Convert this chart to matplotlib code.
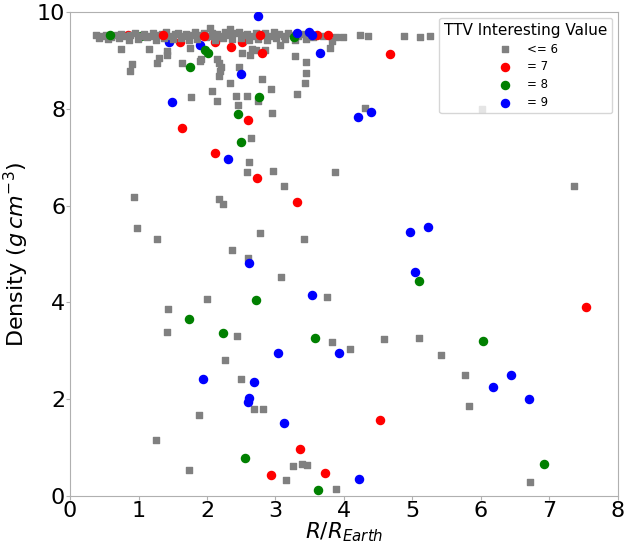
import matplotlib
matplotlib.use("Agg")
import matplotlib.pyplot as plt

# TTV interesting value <= 6 (grey squares)
# dense band near the density cap
band_r = [0.38, 0.45, 0.52, 0.60, 0.68, 0.74, 0.82, 0.88, 0.95, 1.02, 1.08, 1.15,
          1.21, 1.28, 1.34, 1.40, 1.47, 1.53, 1.58, 1.64, 1.70, 1.77, 1.83, 1.88,
          1.96, 2.02, 2.08, 2.15, 2.21, 2.27, 2.33, 2.40, 2.46, 2.52, 2.59, 2.65,
          2.71, 2.78, 2.85, 2.92, 2.98, 3.05, 3.12, 3.18, 3.25, 3.33, 3.40, 3.47, 3.55,
          0.42, 0.56, 0.71, 0.86, 0.99, 1.12, 1.25, 1.37, 1.50, 1.62, 1.74, 1.86,
          1.99, 2.11, 2.24, 2.36, 2.49, 2.62, 2.75, 2.88, 3.01, 3.14, 3.29, 3.44]
band_rho = [9.52, 9.50, 9.53, 9.49, 9.52, 9.55, 9.50, 9.53, 9.56, 9.51, 9.54, 9.50,
            9.57, 9.52, 9.55, 9.58, 9.51, 9.54, 9.57, 9.50, 9.55, 9.52, 9.58, 9.53,
            9.56, 9.51, 9.57, 9.54, 9.50, 9.58, 9.53, 9.56, 9.60, 9.52, 9.55, 9.51,
            9.57, 9.53, 9.56, 9.50, 9.58, 9.54, 9.51, 9.56, 9.53, 9.50, 9.55, 9.52, 9.49,
            9.46, 9.44, 9.47, 9.43, 9.45, 9.48, 9.42, 9.46, 9.44, 9.47, 9.43, 9.45,
            9.48, 9.42, 9.46, 9.44, 9.47, 9.43, 9.45, 9.42, 9.46, 9.44, 9.43, 9.45]

grey_r = [0.93, 0.98, 1.27, 1.435, 1.42, 2.00, 2.44, 2.27, 2.49, 2.69, 2.82, 1.88,
          1.25, 1.73, 3.26, 3.39, 3.46, 3.16, 3.89, 3.08, 3.75, 3.82, 4.09, 4.59,
          5.10, 5.41, 5.76, 5.83, 6.72, 4.31, 6.01, 3.87, 7.36, 1.77, 2.08, 2.15,
          2.33, 2.42, 2.45, 2.58, 2.75, 2.81, 2.93, 3.31, 3.43, 2.95, 2.64, 2.62,
          2.58, 2.97, 3.12, 2.18, 2.24, 2.78, 3.41, 2.36, 2.60, 0.90, 0.87, 1.27,
          1.63, 1.90, 2.17, 2.21, 2.19, 2.17, 2.47, 3.45, 0.74, 1.16, 1.42, 1.42,
          1.30, 1.75, 1.91, 2.15, 2.51, 2.65, 2.63, 2.84, 2.72, 3.07, 3.28, 3.80,
          3.45, 2.05, 2.34, 3.69, 3.82, 3.88, 3.98, 4.24, 4.35, 4.88, 5.11, 5.25]
grey_rho = [6.18, 5.54, 5.32, 3.86, 3.38, 4.07, 3.31, 2.81, 2.42, 1.80, 1.80, 1.68,
            1.16, 0.53, 0.61, 0.66, 0.63, 0.34, 0.14, 4.52, 4.12, 3.18, 3.03, 3.24,
            3.26, 2.91, 2.51, 1.87, 0.28, 8.02, 8.00, 6.70, 6.40, 8.24, 8.37, 8.17,
            8.53, 8.26, 8.09, 8.26, 8.17, 8.62, 8.41, 8.31, 8.54, 7.91, 7.39, 6.90,
            6.70, 6.71, 6.41, 6.13, 6.03, 5.43, 5.32, 5.09, 4.92, 8.92, 8.78, 8.95,
            8.95, 9.00, 8.94, 8.87, 8.79, 8.68, 8.86, 8.97, 9.24, 9.24, 9.19, 9.11,
            9.06, 9.25, 9.04, 9.04, 9.15, 9.24, 9.11, 9.21, 9.22, 9.33, 9.09, 9.26,
            8.75, 9.68, 9.66, 9.50, 9.41, 9.48, 9.49, 9.53, 9.50, 9.50, 9.49, 9.51]

# TTV interesting value = 7
red_r = [1.36, 1.95, 3.60, 2.35, 2.77, 3.77, 4.67, 2.81, 2.60,
         1.63, 2.12, 2.73, 3.31, 3.36, 2.93, 3.73, 7.54, 4.52]
red_rho = [9.53, 9.51, 9.52, 9.29, 9.53, 9.52, 9.13, 9.15, 7.78,
           7.60, 7.09, 6.58, 6.08, 0.98, 0.43, 0.48, 3.90, 1.58]
# red points partly hidden inside the grey band
red_band_r = [2.12, 1.61, 2.51, 0.85]
red_band_rho = [9.39, 9.39, 9.39, 9.52]

# TTV interesting value = 8
green_r = [0.58, 3.27, 1.97, 2.01, 1.75, 2.76, 2.45, 2.49, 1.73, 2.72, 2.24, 3.58,
           2.56, 3.62, 5.10, 6.03, 6.92]
green_rho = [9.53, 9.48, 9.21, 9.16, 8.87, 8.25, 7.89, 7.31, 3.65, 4.06, 3.37, 3.26,
             0.78, 0.12, 4.44, 3.20, 0.67]
green_band_r = [1.04]
green_band_rho = [9.50]

# TTV interesting value = 9
blue_r = [2.75, 3.31, 3.49, 3.53, 3.65, 2.50, 1.49, 2.31, 2.61, 4.40,
          4.20, 4.96, 5.23, 5.04, 3.53, 3.03, 3.92, 1.94, 2.68, 2.61, 2.60, 3.13,
          6.44, 6.18, 6.70, 4.22]
blue_rho = [9.92, 9.56, 9.59, 9.53, 9.15, 8.73, 8.15, 6.97, 4.81, 7.93,
            7.84, 5.46, 5.56, 4.62, 4.15, 2.95, 2.95, 2.42, 2.36, 2.03, 1.94, 1.50,
            2.50, 2.25, 2.00, 0.35]
blue_band_r = [1.44, 1.90]
blue_band_rho = [9.39, 9.32]

fig = plt.figure(figsize=(6.28, 5.43), dpi=100)
ax = fig.add_axes([0.1115, 0.0866, 0.8725, 0.891])

# colored points that sit under the grey band
ax.scatter(red_band_r, red_band_rho, marker='o', s=34, color='red', zorder=1)
ax.scatter(green_band_r, green_band_rho, marker='o', s=34, color='green', zorder=1)
ax.scatter(blue_band_r, blue_band_rho, marker='o', s=34, color='blue', zorder=1)

ax.scatter(grey_r + band_r, grey_rho + band_rho, marker='s', s=24, color='gray',
           label='<= 6', zorder=2)
ax.scatter(red_r, red_rho, marker='o', s=34, color='red', label='= 7', zorder=3)
ax.scatter(green_r, green_rho, marker='o', s=34, color='green', label='= 8', zorder=3)
ax.scatter(blue_r, blue_rho, marker='o', s=34, color='blue', label='= 9', zorder=3)

ax.set_xlim(0, 8)
ax.set_ylim(0, 10)
ax.set_xlabel('$R/R_{Earth}$', fontsize=15.5, labelpad=-0.5)
ax.set_ylabel('Density ($g\\,cm^{-3}$)', fontsize=16)
ax.tick_params(labelsize=16, length=3, color='#b0b0b0', pad=0.5)
for sp in ax.spines.values():
    sp.set_color('#b0b0b0')

ax.legend(title='TTV Interesting Value', loc='upper right', fontsize=8.5,
          title_fontsize=11, labelspacing=0.4, borderaxespad=0.5)

plt.savefig('out.png', dpi=100)
